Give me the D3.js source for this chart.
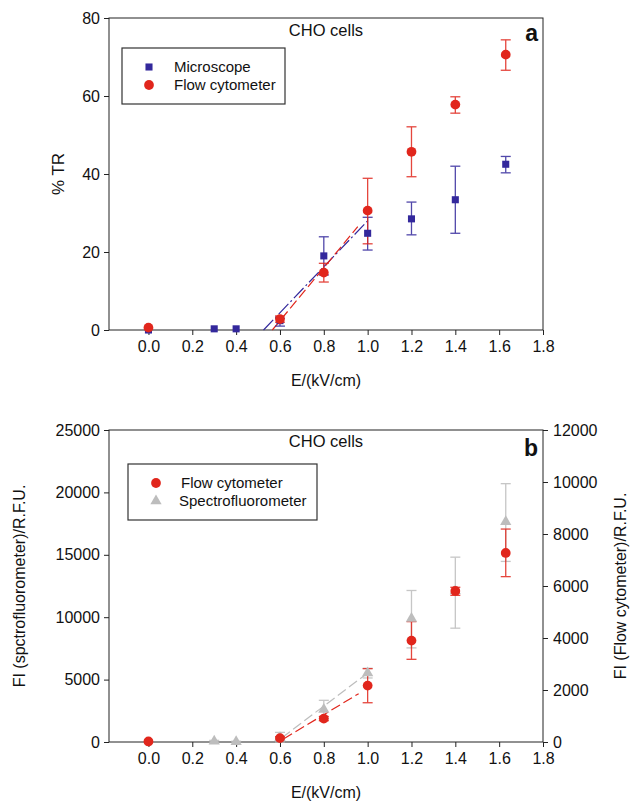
<!DOCTYPE html>
<html>
<head>
<meta charset="utf-8">
<script src="https://cdn.jsdelivr.net/npm/d3@7"></script>
<style>
  body { margin: 0; background: #fff; }
  text { font-family: "Liberation Sans", Arial, sans-serif; fill: #111; }
  .tick text { font-size: 16px; }
</style>
</head>
<body>
<div id="viz_container"></div>
<script>
// ---- data ----
const xTicks = [0.0, 0.2, 0.4, 0.6, 0.8, 1.0, 1.2, 1.4, 1.6, 1.8];

// panel a: % TR
const microE = [0.0, 0.3, 0.4, 0.6, 0.8, 1.0, 1.2, 1.4, 1.63];
const microTR = [0.0, 0.3, 0.3, 2.4, 19.0, 24.8, 28.5, 33.4, 42.5];
const microLo = [0.0, 0.3, 0.3, 1.0, 14.1, 20.5, 24.4, 24.8, 40.3];
const microHi = [0.0, 0.3, 0.3, 3.0, 23.9, 28.9, 32.8, 42.0, 44.5];

const flowE = [0.0, 0.6, 0.8, 1.0, 1.2, 1.4, 1.63];
const flowTR = [0.6, 2.8, 14.7, 30.6, 45.7, 57.8, 70.6];
const flowTRLo = [0.6, 2.0, 12.3, 22.1, 39.3, 55.6, 66.6];
const flowTRHi = [0.6, 3.6, 17.1, 38.9, 52.1, 59.8, 74.4];

// fitted lines, panel a
const microFitE = [0.525, 1.0];
const microFitTR = [0, 28.0];
const flowFitE = [0.565, 0.955];
const flowFitTR = [0, 26.5];

// panel b: fluorescence intensity
const flowFI = [20, 150, 900, 2170, 3900, 5810, 7270];
const flowFILo = [20, 100, 820, 1510, 3180, 5640, 6360];
const flowFIHi = [20, 200, 980, 2820, 4630, 5950, 8190];

const specE = [0.3, 0.4, 0.6, 0.8, 1.0, 1.2, 1.4, 1.63];
const specFI = [60, 20, 350, 2600, 5530, 9890, 12090, 17650];
const specLo = [0, 0, 0, 1870, 5130, 7540, 9120, 14470];
const specHi = [130, 60, 770, 3340, 5910, 12140, 14810, 20700];

const specFitE = [0.609, 0.994];
const specFitFI = [345, 5450];
const flowFitBE = [0.616, 0.959];
const flowFitBFI = [115, 1860];

const yTicksA = [0, 20, 40, 60, 80];
const yTicksB = [0, 5000, 10000, 15000, 20000, 25000];
const yTicksBR = [0, 2000, 4000, 6000, 8000, 10000, 12000];

const BLUE = "#33289c";
const RED = "#e1261c";
const GREY = "#bdbdbd";

const svg = d3.select("#viz_container")
  .append("svg")
  .attr("width", 640)
  .attr("height", 801);

const left = 109, right = 543;
const x = d3.scaleLinear().domain([-0.18, 1.8]).range([left, right]);

function frame(top, bottom) {
  svg.append("rect")
    .attr("x", left).attr("y", top)
    .attr("width", right - left).attr("height", bottom - top)
    .attr("fill", "none").attr("stroke", "#222").attr("stroke-width", 1);
}

function xAxis(bottom) {
  svg.append("g")
    .attr("transform", `translate(0,${bottom})`)
    .call(d3.axisBottom(x).tickValues(xTicks).tickSize(5).tickPadding(6).tickFormat(d3.format(".1f")))
    .call(g => g.select(".domain").remove())
    .call(g => g.selectAll("line").attr("stroke", "#222"));
  svg.append("text")
    .attr("x", 326).attr("y", bottom + 56)
    .attr("text-anchor", "middle")
    .style("font-size", "16px")
    .text("E/(kV/cm)");
}

function errorBars(xs, lo, hi, y, color) {
  const g = svg.append("g").attr("stroke", color).attr("stroke-width", 1.3).attr("opacity", 0.85);
  xs.forEach((e, i) => {
    if (hi[i] - lo[i] <= 0) return;
    const cx = x(e);
    g.append("line").attr("x1", cx).attr("x2", cx).attr("y1", y(lo[i])).attr("y2", y(hi[i]));
    g.append("line").attr("x1", cx - 5).attr("x2", cx + 5).attr("y1", y(lo[i])).attr("y2", y(lo[i]));
    g.append("line").attr("x1", cx - 5).attr("x2", cx + 5).attr("y1", y(hi[i])).attr("y2", y(hi[i]));
  });
}

function fitLine(xs, ys, y, color, dash) {
  svg.append("path")
    .datum(xs.map((e, i) => [e, ys[i]]))
    .attr("d", d3.line().x(d => x(d[0])).y(d => y(d[1])))
    .attr("fill", "none")
    .attr("stroke", color)
    .attr("stroke-width", 1.2)
    .attr("stroke-dasharray", dash);
}

const sym = (type, size) => d3.symbol().type(type).size(size);

function markers(xs, ys, y, type, size, color) {
  svg.append("g")
    .selectAll("path")
    .data(xs.map((e, i) => [e, ys[i]]))
    .join("path")
    .attr("transform", d => `translate(${x(d[0])},${y(d[1])})`)
    .attr("d", sym(type, size))
    .attr("fill", color);
}

// ================= panel a =================
const topA = 18, bottomA = 330;
const yA = d3.scaleLinear().domain([0, 80]).range([bottomA, topA]);

svg.append("g")
  .attr("transform", `translate(${left},0)`)
  .call(d3.axisLeft(yA).tickValues(yTicksA).tickSize(5).tickPadding(4))
  .call(g => g.select(".domain").remove())
  .call(g => g.selectAll("line").attr("stroke", "#222"));
xAxis(bottomA);
frame(topA, bottomA);

fitLine(microFitE, microFitTR, yA, BLUE, "14,3,2,3");
fitLine(flowFitE, flowFitTR, yA, RED, "10,4");
errorBars(microE, microLo, microHi, yA, BLUE);
errorBars(flowE, flowTRLo, flowTRHi, yA, RED);
markers(microE, microTR, yA, d3.symbolSquare, 50, BLUE);
markers(flowE, flowTR, yA, d3.symbolCircle, 75, RED);

svg.append("text")
  .attr("transform", `translate(64,${(topA + bottomA) / 2}) rotate(-90)`)
  .attr("text-anchor", "middle")
  .style("font-size", "17px")
  .text("% TR");

svg.append("text").attr("x", 326).attr("y", 36).attr("text-anchor", "middle")
  .style("font-size", "16.5px").text("CHO cells");
svg.append("text").attr("x", 538).attr("y", 41).attr("text-anchor", "end")
  .style("font-size", "23px").style("font-weight", "bold").text("a");

// legend a
svg.append("rect").attr("x", 122).attr("y", 48).attr("width", 163).attr("height", 56)
  .attr("fill", "#fff").attr("stroke", "#333").attr("stroke-width", 1.2);
svg.append("path").attr("transform", "translate(149,67)").attr("d", sym(d3.symbolSquare, 50)()).attr("fill", BLUE);
svg.append("path").attr("transform", "translate(149,85)").attr("d", sym(d3.symbolCircle, 75)()).attr("fill", RED);
svg.append("text").attr("x", 174).attr("y", 72).style("font-size", "15px").text("Microscope");
svg.append("text").attr("x", 174).attr("y", 90).style("font-size", "15px").text("Flow cytometer");

// ================= panel b =================
const topB = 430, bottomB = 742;
const yB = d3.scaleLinear().domain([0, 25000]).range([bottomB, topB]);
const yBR = d3.scaleLinear().domain([0, 12000]).range([bottomB, topB]);

svg.append("g")
  .attr("transform", `translate(${left},0)`)
  .call(d3.axisLeft(yB).tickValues(yTicksB).tickSize(5).tickPadding(4).tickFormat(d3.format("d")))
  .call(g => g.select(".domain").remove())
  .call(g => g.selectAll("line").attr("stroke", "#222"));
svg.append("g")
  .attr("transform", `translate(${right},0)`)
  .call(d3.axisRight(yBR).tickValues(yTicksBR).tickSize(5).tickPadding(5).tickFormat(d3.format("d")))
  .call(g => g.select(".domain").remove())
  .call(g => g.selectAll("line").attr("stroke", "#222"));
xAxis(bottomB);
frame(topB, bottomB);

fitLine(specFitE, specFitFI, yB, GREY, "10,4");
fitLine(flowFitBE, flowFitBFI, yBR, RED, "10,4");
errorBars(specE, specLo, specHi, yB, GREY);
errorBars(flowE, flowFILo, flowFIHi, yBR, RED);
markers(specE, specFI, yB, d3.symbolTriangle, 55, GREY);
markers(flowE, flowFI, yBR, d3.symbolCircle, 75, RED);

svg.append("text")
  .attr("transform", `translate(25,${(topB + bottomB) / 2}) rotate(-90)`)
  .attr("text-anchor", "middle")
  .style("font-size", "16px")
  .text("FI (spctrofluorometer)/R.F.U.");
svg.append("text")
  .attr("transform", `translate(626,${(topB + bottomB) / 2}) rotate(-90)`)
  .attr("text-anchor", "middle")
  .style("font-size", "16px")
  .text("FI (Flow cytometer)/R.F.U.");

svg.append("text").attr("x", 326).attr("y", 447).attr("text-anchor", "middle")
  .style("font-size", "16.5px").text("CHO cells");
svg.append("text").attr("x", 538).attr("y", 456).attr("text-anchor", "end")
  .style("font-size", "23px").style("font-weight", "bold").text("b");

// legend b
svg.append("rect").attr("x", 128).attr("y", 464).attr("width", 189).attr("height", 56)
  .attr("fill", "#fff").attr("stroke", "#333").attr("stroke-width", 1.2);
svg.append("path").attr("transform", "translate(156,483)").attr("d", sym(d3.symbolCircle, 75)()).attr("fill", RED);
svg.append("path").attr("transform", "translate(156,501)").attr("d", sym(d3.symbolTriangle, 55)()).attr("fill", GREY);
svg.append("text").attr("x", 181).attr("y", 488).style("font-size", "15px").text("Flow cytometer");
svg.append("text").attr("x", 179).attr("y", 506).style("font-size", "15px").text("Spectrofluorometer");
</script>
</body>
</html>
